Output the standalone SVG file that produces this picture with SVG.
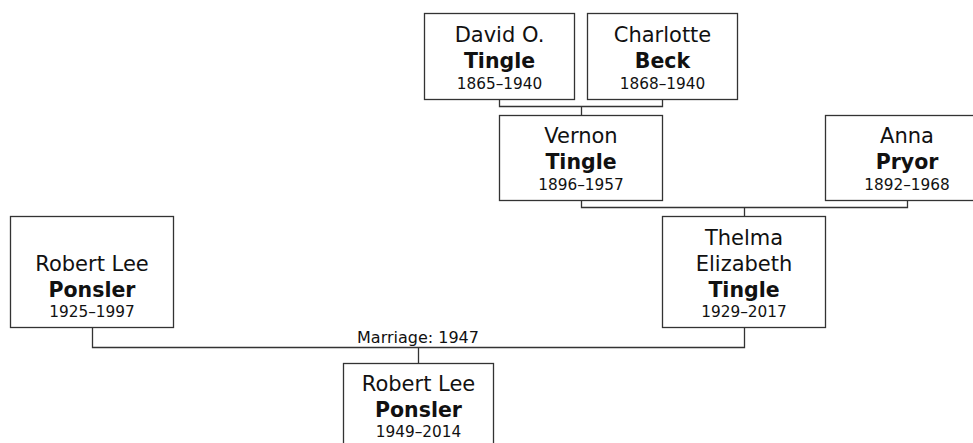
<svg xmlns="http://www.w3.org/2000/svg" width="973" height="443" viewBox="0 0 973 443">
<style>
.box{fill:#fff;stroke:#333;stroke-width:1.3}
.ln{fill:none;stroke:#333;stroke-width:1.3}
text{font-family:"DejaVu Sans",Verdana,sans-serif;text-anchor:middle;fill:#111}
.n{font-size:21px}
.b{font-size:20.5px;font-weight:bold}
.d{font-size:15.3px}
.m{font-size:16px}
</style>
<rect width="973" height="443" fill="#fff"/>
<g id="connectors">
<path class="ln" d="M499.5,99 V106.5 H662.5 V99 M581.5,106.5 V115"/>
<path class="ln" d="M581.5,200 V207.5 H907.5 V200 M744.5,207.5 V216"/>
<path class="ln" d="M92.5,327 V347.5 H744.5 V327 M418.5,347.5 V363"/>
<text class="m" x="418" y="343">Marriage: 1947</text>
</g>
<g id="david">
<rect class="box" x="424.5" y="13.5" width="150" height="86"/>
<text class="n" x="499.5" y="42">David O.</text>
<text class="b" x="499.5" y="68">Tingle</text>
<text class="d" x="499.5" y="89">1865–1940</text>
</g>
<g id="charlotte">
<rect class="box" x="587.5" y="13.5" width="150" height="86"/>
<text class="n" x="662.5" y="42">Charlotte</text>
<text class="b" x="662.5" y="68">Beck</text>
<text class="d" x="662.5" y="89">1868–1940</text>
</g>
<g id="vernon">
<rect class="box" x="499.5" y="115.5" width="163" height="85"/>
<text class="n" x="581" y="143">Vernon</text>
<text class="b" x="581" y="169">Tingle</text>
<text class="d" x="581" y="190">1896–1957</text>
</g>
<g id="anna">
<rect class="box" x="825.5" y="115.5" width="163" height="85"/>
<text class="n" x="907" y="143">Anna</text>
<text class="b" x="907" y="169">Pryor</text>
<text class="d" x="907" y="190">1892–1968</text>
</g>
<g id="thelma">
<rect class="box" x="662.5" y="216.5" width="163" height="111"/>
<text class="n" x="744" y="245">Thelma</text>
<text class="n" x="744" y="271">Elizabeth</text>
<text class="b" x="744" y="297">Tingle</text>
<text class="d" x="744" y="317">1929–2017</text>
</g>
<g id="robert">
<rect class="box" x="10.5" y="216.5" width="163" height="111"/>
<text class="n" x="92" y="271">Robert Lee</text>
<text class="b" x="92" y="297">Ponsler</text>
<text class="d" x="92" y="317">1925–1997</text>
</g>
<g id="child">
<rect class="box" x="343.5" y="363.5" width="150" height="86"/>
<text class="n" x="418.5" y="391">Robert Lee</text>
<text class="b" x="418.5" y="417">Ponsler</text>
<text class="d" x="418.5" y="437">1949–2014</text>
</g>
</svg>
